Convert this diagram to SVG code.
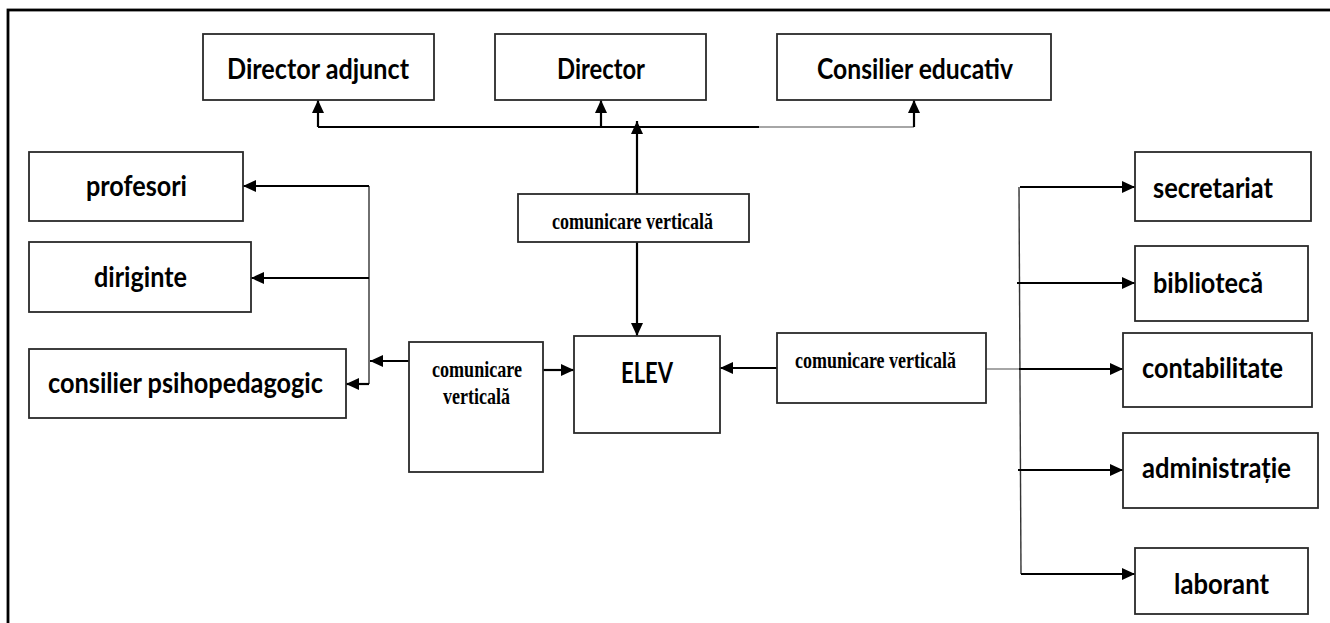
<svg xmlns="http://www.w3.org/2000/svg" width="1330" height="623" viewBox="0 0 1330 623">
<style>
.box{fill:#fff;stroke:#2a2a2a;stroke-width:1.8}
.t{font-family:Lato,"Open Sans","Liberation Sans",sans-serif;font-weight:700;font-size:29px;fill:#000}
.s{font-family:"Liberation Serif","Times New Roman",serif;font-weight:700;font-size:24px;fill:#000}
.c{fill:none;stroke:#000;stroke-width:2.2}
.thin{fill:none;stroke:#333;stroke-width:1.4}
.grey{fill:none;stroke:#888;stroke-width:1.6}
</style>
<defs>
<marker id="ah" markerUnits="userSpaceOnUse" markerWidth="13" markerHeight="12" refX="13" refY="6" orient="auto">
<path d="M0,0 L13,6 L0,12 z" fill="#000"/>
</marker>
</defs>
<rect x="8" y="10" width="1340" height="640" fill="none" stroke="#000" stroke-width="2.8"/>

<g id="connectors">
<path class="c" d="M318,127 H759"/>
<path class="grey" d="M759,127 H914"/>
<path class="c" d="M318,127 V100" marker-end="url(#ah)"/>
<path class="c" d="M601,127 V100" marker-end="url(#ah)"/>
<path class="c" d="M914,127 V100" marker-end="url(#ah)"/>
<path class="c" d="M637,194 V121" marker-end="url(#ah)"/>
<path class="c" d="M637,242 V336" marker-end="url(#ah)"/>
<path class="thin" d="M369,186 V384"/>
<path class="c" d="M369,186 H243" marker-end="url(#ah)"/>
<path class="c" d="M369,278 H251" marker-end="url(#ah)"/>
<path class="c" d="M369,384 H346" marker-end="url(#ah)"/>
<path class="c" d="M409,361 H370" marker-end="url(#ah)"/>
<path class="c" d="M543,370 H574" marker-end="url(#ah)"/>
<path class="c" d="M777,368 H720" marker-end="url(#ah)"/>
<path class="grey" d="M979,369 H1019"/>
<path class="thin" d="M1019,187 L1021,574"/>
<path class="c" d="M1020,187 H1135" marker-end="url(#ah)"/>
<path class="c" d="M1017,283 H1135" marker-end="url(#ah)"/>
<path class="c" d="M1019,369 H1123" marker-end="url(#ah)"/>
<path class="c" d="M1018,470 H1123" marker-end="url(#ah)"/>
<path class="c" d="M1021,574 H1135" marker-end="url(#ah)"/>
</g>

<g id="director-adjunct"><rect class="box" x="203" y="34" width="231" height="66"/><text class="t" x="227" y="79" textLength="182" lengthAdjust="spacingAndGlyphs">Director adjunct</text></g>
<g id="director"><rect class="box" x="495" y="34" width="211" height="66"/><text class="t" x="557" y="79" textLength="88" lengthAdjust="spacingAndGlyphs">Director</text></g>
<g id="consilier-educativ"><rect class="box" x="777" y="34" width="274" height="66"/><text class="t" x="817" y="79" textLength="196" lengthAdjust="spacingAndGlyphs">Consilier educativ</text></g>

<g id="comm-top"><rect class="box" x="518" y="194" width="231" height="48"/><text class="s" x="552" y="229" textLength="161" lengthAdjust="spacingAndGlyphs">comunicare verticală</text></g>
<g id="comm-left"><rect class="box" x="409" y="342" width="134" height="130"/><text class="s" x="432" y="377" textLength="90" lengthAdjust="spacingAndGlyphs">comunicare</text><text class="s" x="443" y="404" textLength="67" lengthAdjust="spacingAndGlyphs">verticală</text></g>
<g id="comm-right"><rect class="box" x="777" y="333" width="209" height="70"/><text class="s" x="795" y="368" textLength="161" lengthAdjust="spacingAndGlyphs">comunicare verticală</text></g>

<g id="elev"><rect class="box" x="574" y="336" width="146" height="97"/><text class="t" x="621" y="383" textLength="52" lengthAdjust="spacingAndGlyphs">ELEV</text></g>

<g id="profesori"><rect class="box" x="29" y="152" width="214" height="69"/><text class="t" x="86" y="196" textLength="101" lengthAdjust="spacingAndGlyphs">profesori</text></g>
<g id="diriginte"><rect class="box" x="29" y="242" width="222" height="70"/><text class="t" x="94" y="287" textLength="93" lengthAdjust="spacingAndGlyphs">diriginte</text></g>
<g id="consilier-psihopedagogic"><rect class="box" x="29" y="349" width="317" height="69"/><text class="t" x="48" y="393" textLength="275" lengthAdjust="spacingAndGlyphs">consilier psihopedagogic</text></g>

<g id="secretariat"><rect class="box" x="1135" y="152" width="176" height="69"/><text class="t" x="1153" y="198" textLength="120" lengthAdjust="spacingAndGlyphs">secretariat</text></g>
<g id="biblioteca"><rect class="box" x="1135" y="246" width="173" height="75"/><text class="t" x="1153" y="293" textLength="110" lengthAdjust="spacingAndGlyphs">bibliotecă</text></g>
<g id="contabilitate"><rect class="box" x="1123" y="333" width="189" height="74"/><text class="t" x="1142" y="378" textLength="141" lengthAdjust="spacingAndGlyphs">contabilitate</text></g>
<g id="administratie"><rect class="box" x="1123" y="433" width="195" height="75"/><text class="t" x="1142" y="478" textLength="149" lengthAdjust="spacingAndGlyphs">administrație</text></g>
<g id="laborant"><rect class="box" x="1135" y="548" width="173" height="66"/><text class="t" x="1174" y="594" textLength="95" lengthAdjust="spacingAndGlyphs">laborant</text></g>
</svg>
